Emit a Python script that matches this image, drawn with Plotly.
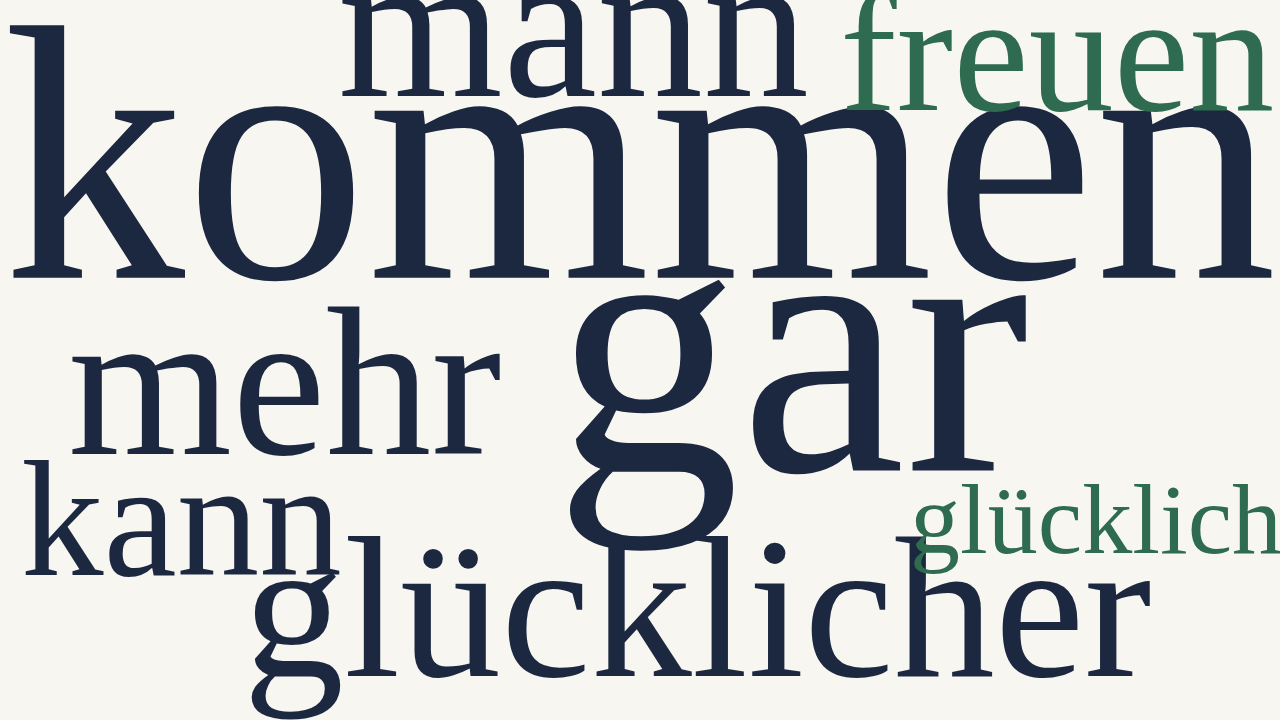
import plotly.graph_objects as go

# word cloud data
words = ["kommen", "gar", "mann", "mehr", "glücklicher", "freuen", "kann", "glücklich"]
counts = [36, 36, 21, 21, 20, 17, 16, 10]
groups = ["other", "other", "other", "other", "other", "positive", "other", "positive"]

# layout of the cloud (pixel placement: left edge, baseline, font size)
place = {
    "kommen": (3, 285, 364),
    "gar": (554, 478, 372),
    "mann": (338, 100, 212),
    "mehr": (68, 458, 211),
    "glücklicher": (243, 680, 202),
    "freuen": (840, 113, 170),
    "kann": (21, 578, 165),
    "glücklich": (910, 555, 100),
}
colors = {"other": "#1c2740", "positive": "#2e6b4f"}
W, H = 1280, 720

fig = go.Figure()
for w, c, g in zip(words, counts, groups):
    left, base, size = place[w]
    fig.add_trace(go.Scatter(
        x=[left], y=[H - (base - 0.27 * size)],
        mode="text", text=[w], textposition="middle right",
        textfont=dict(family="Liberation Serif", size=size, color=colors[g]),
        hovertext=[f"{w}: {c}"], hoverinfo="text", showlegend=False,
    ))

fig.update_layout(
    width=W, height=H,
    margin=dict(l=0, r=0, t=0, b=0),
    paper_bgcolor="#f7f6f1", plot_bgcolor="#f7f6f1",
    xaxis=dict(range=[0, W], visible=False, fixedrange=True),
    yaxis=dict(range=[0, H], visible=False, fixedrange=True),
)
fig.write_html("out.html", config={"displayModeBar": False},
               post_script="document.body.style.margin='0';"
               "document.body.style.background='#f7f6f1';")
